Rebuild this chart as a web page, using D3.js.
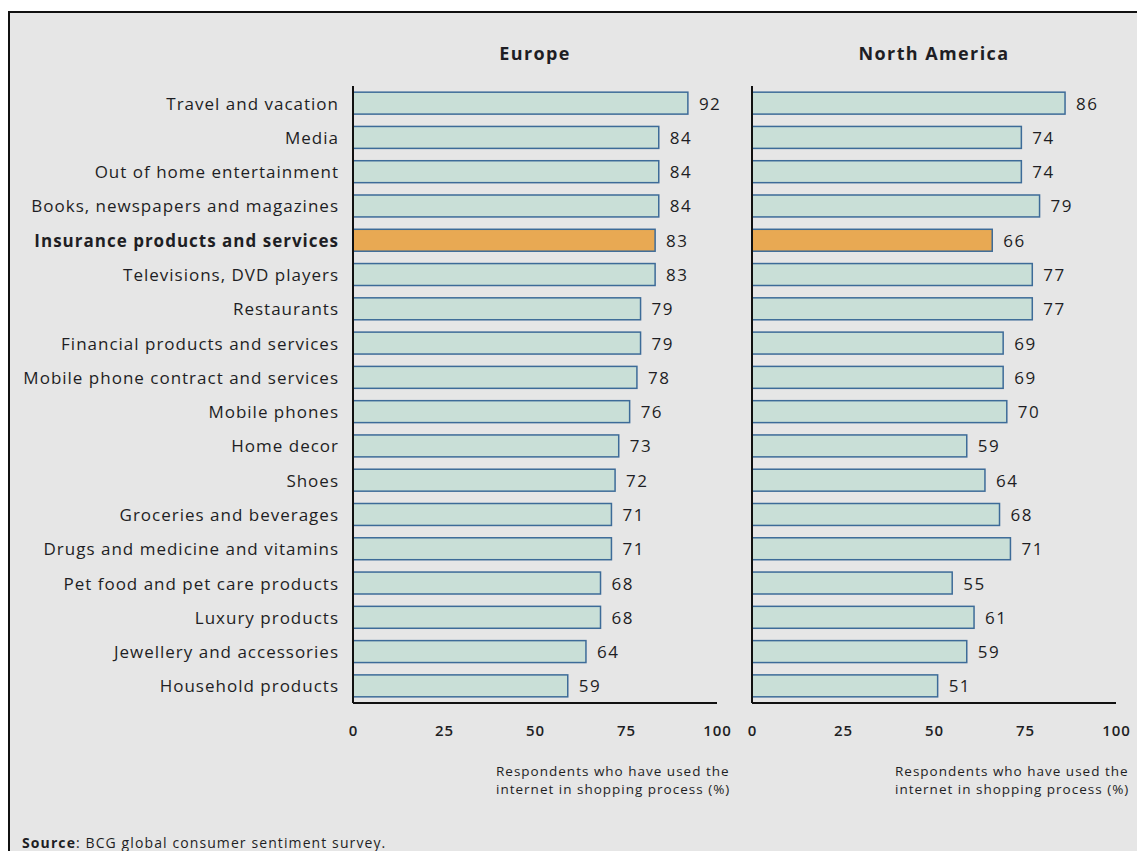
<!DOCTYPE html>
<html>
<head>
<meta charset="utf-8">
<script src="https://cdn.jsdelivr.net/npm/d3@7"></script>
<style>
  html, body { margin: 0; padding: 0; background: #ffffff; }
  svg { display: block; }
  text { font-family: "Open Sans", "Noto Sans", sans-serif; fill: #1e1e24; }
</style>
</head>
<body>
<svg id="chart" width="1137" height="851"></svg>
<script>
// Product categories, top to bottom
const categories = [
  "Travel and vacation",
  "Media",
  "Out of home entertainment",
  "Books, newspapers and magazines",
  "Insurance products and services",
  "Televisions, DVD players",
  "Restaurants",
  "Financial products and services",
  "Mobile phone contract and services",
  "Mobile phones",
  "Home decor",
  "Shoes",
  "Groceries and beverages",
  "Drugs and medicine and vitamins",
  "Pet food and pet care products",
  "Luxury products",
  "Jewellery and accessories",
  "Household products"
];

// Share of respondents (%) per region
const europeValues = [92, 84, 84, 84, 83, 83, 79, 79, 78, 76, 73, 72, 71, 71, 68, 68, 64, 59];
const northAmericaValues = [86, 74, 74, 79, 66, 77, 77, 69, 69, 70, 59, 64, 68, 71, 55, 61, 59, 51];

const highlighted = "Insurance products and services";
const xTicks = [0, 25, 50, 75, 100];
const panelTitles = ["Europe", "North America"];
const axisTitleLines = ["Respondents who have used the", "internet in shopping process (%)"];

const svg = d3.select("#chart");

// Grey framed backdrop
svg.append("rect")
  .attr("x", 9).attr("y", 12)
  .attr("width", 1140).attr("height", 850)
  .attr("fill", "#e6e6e6")
  .attr("stroke", "#111").attr("stroke-width", 2);

const plotTop = 86, plotBottom = 703;
const y = d3.scaleBand().domain(categories).range([plotTop, plotBottom]).paddingInner(0.36).paddingOuter(0.18);

const panels = [
  { title: panelTitles[0], values: europeValues, x0: 353, x1: 717 },
  { title: panelTitles[1], values: northAmericaValues, x0: 752, x1: 1116 }
];

panels.forEach(p => {
  const x = d3.scaleLinear().domain([0, 100]).range([p.x0, p.x1]);
  const g = svg.append("g");

  g.append("text")
    .attr("x", (p.x0 + p.x1) / 2)
    .attr("y", 60)
    .attr("text-anchor", "middle")
    .style("font-size", "18px")
    .style("letter-spacing", "1.4px")
    .style("font-weight", "700")
    .text(p.title);

  g.selectAll("rect.bar")
    .data(categories)
    .join("rect")
    .attr("class", "bar")
    .attr("x", x(0))
    .attr("y", d => y(d))
    .attr("width", (d, i) => x(p.values[i]) - x(0))
    .attr("height", y.bandwidth())
    .attr("fill", d => d === highlighted ? "#e8a953" : "#c9dfd7")
    .attr("stroke", "#3d6b98")
    .attr("stroke-width", 1.5);

  g.selectAll("text.val")
    .data(categories)
    .join("text")
    .attr("class", "val")
    .attr("x", (d, i) => x(p.values[i]) + 11)
    .attr("y", d => y(d) + y.bandwidth() / 2 + 6.5)
    .style("font-size", "17px")
    .style("letter-spacing", "1.5px")
    .text((d, i) => p.values[i]);

  // Axes: vertical baseline and horizontal floor, no tick marks
  g.append("line")
    .attr("x1", x(0)).attr("x2", x(0))
    .attr("y1", plotTop).attr("y2", plotBottom)
    .attr("stroke", "#111").attr("stroke-width", 2);

  const xAxis = d3.axisBottom(x).tickValues(xTicks).tickSize(0).tickPadding(22);
  const ax = g.append("g").attr("transform", `translate(0,${plotBottom})`).call(xAxis);
  ax.select(".domain").attr("stroke", "#111").attr("stroke-width", 2)
    .attr("d", `M${x(0)},0H${p.x1}`);
  ax.selectAll(".tick text")
    .style("font-family", "'Open Sans', sans-serif")
    .style("font-size", "15px")
    .style("letter-spacing", "1px")
    .style("font-weight", "600")
    .style("fill", "#1e1e24");

  const t = g.append("text")
    .attr("x", p.x0 + 143)
    .attr("y", 776)
    .style("font-size", "13.5px")
    .style("letter-spacing", "1px");
  axisTitleLines.forEach((line, i) => {
    t.append("tspan").attr("x", p.x0 + 143).attr("dy", i === 0 ? 0 : 18).text(line);
  });
});

// Category labels, right-aligned to the left of the Europe axis
svg.selectAll("text.cat")
  .data(categories)
  .join("text")
  .attr("class", "cat")
  .attr("x", 339)
  .attr("y", d => y(d) + y.bandwidth() / 2 + 6.5)
  .attr("text-anchor", "end")
  .style("font-size", "17px")
  .style("letter-spacing", "1px")
  .style("font-weight", d => d === highlighted ? "700" : "400")
  .text(d => d);

const src = svg.append("text").attr("x", 22).attr("y", 848)
  .style("font-size", "14px").style("letter-spacing", "1.1px");
src.append("tspan").style("font-weight", "700").text("Source");
src.append("tspan").text(": BCG global consumer sentiment survey.");
</script>
</body>
</html>
